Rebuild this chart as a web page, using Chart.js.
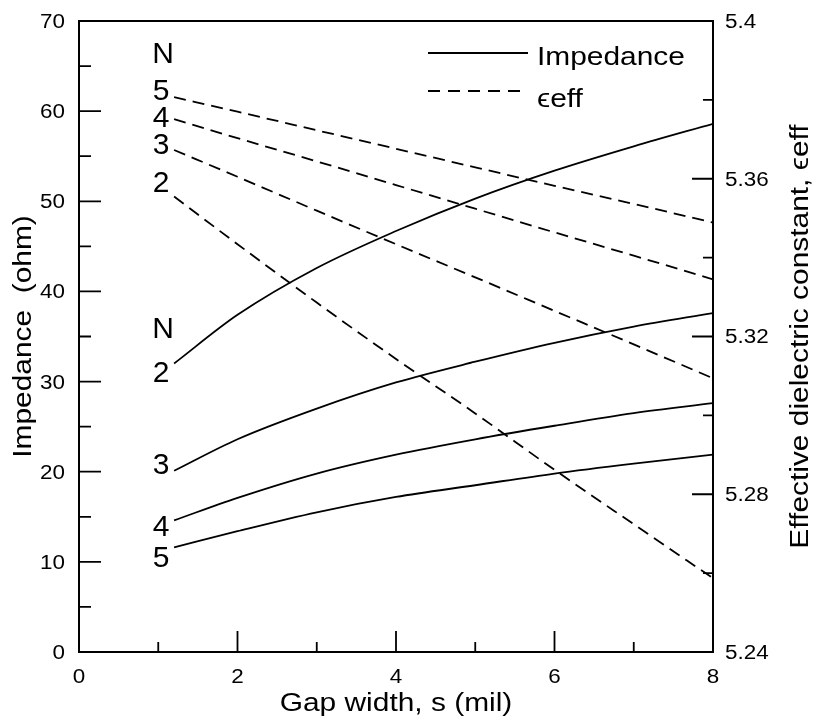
<!DOCTYPE html>
<html>
<head>
<meta charset="utf-8">
<script src="https://cdn.jsdelivr.net/npm/chart.js@4"></script>
<style>
  html, body { margin: 0; padding: 0; background: #fff; }
  #wrap { width: 815px; height: 724px; }
</style>
</head>
<body>
<div id="wrap"><canvas id="chart" width="815" height="724"></canvas></div>
<script>
// Gap width s (mil) at which each curve was evaluated
const gapWidth = [1.2, 2, 3, 4, 5, 6, 7, 8];

// Characteristic impedance (ohm) for N = 2..5 fingers
const impedanceN2 = [32.0, 37.4, 42.6, 46.7, 50.3, 53.4, 56.1, 58.6];
const impedanceN3 = [20.1, 23.6, 27.0, 29.9, 32.2, 34.3, 36.1, 37.6];
const impedanceN4 = [14.6, 17.1, 19.8, 21.9, 23.6, 25.1, 26.5, 27.6];
const impedanceN5 = [11.6, 13.4, 15.5, 17.2, 18.5, 19.8, 20.9, 21.9];

// Effective dielectric constant for N = 2..5 fingers
const effN2 = [5.3555, 5.3434, 5.3286, 5.3143, 5.3005, 5.2862, 5.2724, 5.2587];
const effN3 = [5.3673, 5.3605, 5.3519, 5.3434, 5.3350, 5.3265, 5.3180, 5.3094];
const effN4 = [5.3751, 5.3703, 5.3644, 5.3584, 5.3524, 5.3464, 5.3405, 5.3345];
const effN5 = [5.3807, 5.3770, 5.3723, 5.3676, 5.3629, 5.3582, 5.3536, 5.3489];

// Axis ticks and their labels
const xTicks = [0, 2, 4, 6, 8];
const xMinorTicks = [1, 3, 5, 7];
const leftTicks = [0, 10, 20, 30, 40, 50, 60, 70];
const leftMinorTicks = [5, 15, 25, 35, 45, 55, 65];
const rightTicks = [5.24, 5.28, 5.32, 5.36, 5.4];
const rightTickLabels = ['5.24', '5.28', '5.32', '5.36', '5.4'];
const rightMinorTicks = [5.26, 5.30, 5.34, 5.38];

const FONT = "'Liberation Sans', Arial, Helvetica, sans-serif";
const TEXT_SX = 1.15;   // the figure's lettering runs a little wide
Chart.defaults.font.family = FONT;
Chart.defaults.color = '#000';

const toPoints = ys => gapWidth.map((s, i) => ({ x: s, y: ys[i] }));

const impedanceSeries = [
  { n: '2', values: impedanceN2, labelDy: 8 },
  { n: '3', values: impedanceN3, labelDy: -8 },
  { n: '4', values: impedanceN4, labelDy: 5 },
  { n: '5', values: impedanceN5, labelDy: 9 }
];
const effSeries = [
  { n: '5', values: effN5, labelDy: -8 },
  { n: '4', values: effN4, labelDy: -3 },
  { n: '3', values: effN3, labelDy: -6.5 },
  { n: '2', values: effN2, labelDy: -15 }
];

const datasets = [];
impedanceSeries.forEach(s => datasets.push({
  label: 'Impedance N=' + s.n,
  data: toPoints(s.values),
  yAxisID: 'y',
  borderColor: '#000',
  borderWidth: 1.8,
  pointRadius: 0,
  fill: false,
  cubicInterpolationMode: 'monotone'
}));
effSeries.forEach(s => datasets.push({
  label: 'eff N=' + s.n,
  data: toPoints(s.values),
  yAxisID: 'y1',
  borderColor: '#000',
  borderWidth: 1.8,
  borderDash: [12, 7],
  pointRadius: 0,
  fill: false,
  cubicInterpolationMode: 'monotone'
}));

function wideText(ctx, text, x, y, size, align, rotate) {
  ctx.save();
  ctx.translate(x, y);
  if (rotate) ctx.rotate(rotate);
  ctx.scale(TEXT_SX, 1);
  ctx.font = size + 'px ' + FONT;
  ctx.textAlign = align;
  ctx.textBaseline = 'alphabetic';
  ctx.fillText(text, 0, 0);
  ctx.restore();
}

// Frame, inward tick marks, axis lettering, curve labels and legend
const decorations = {
  id: 'decorations',
  afterDatasetsDraw(chart) {
    const { ctx, chartArea: ca, scales } = chart;
    const x = scales.x, y = scales.y, y1 = scales.y1;
    ctx.save();
    ctx.strokeStyle = '#000';
    ctx.fillStyle = '#000';
    ctx.setLineDash([]);

    // frame
    ctx.lineWidth = 2;
    ctx.strokeRect(ca.left, ca.top, ca.right - ca.left, ca.bottom - ca.top);

    // tick marks pointing into the plot
    ctx.lineWidth = 1.8;
    ctx.beginPath();
    xTicks.slice(1, -1).forEach(v => {
      const px = x.getPixelForValue(v);
      ctx.moveTo(px, ca.bottom); ctx.lineTo(px, ca.bottom - 21);
    });
    xMinorTicks.forEach(v => {
      const px = x.getPixelForValue(v);
      ctx.moveTo(px, ca.bottom); ctx.lineTo(px, ca.bottom - 10);
    });
    leftTicks.slice(1, -1).forEach(v => {
      const py = y.getPixelForValue(v);
      ctx.moveTo(ca.left, py); ctx.lineTo(ca.left + 22, py);
    });
    leftMinorTicks.forEach(v => {
      const py = y.getPixelForValue(v);
      ctx.moveTo(ca.left, py); ctx.lineTo(ca.left + 12, py);
    });
    rightTicks.slice(1, -1).forEach(v => {
      const py = y1.getPixelForValue(v);
      ctx.moveTo(ca.right, py); ctx.lineTo(ca.right - 21, py);
    });
    rightMinorTicks.forEach(v => {
      const py = y1.getPixelForValue(v);
      ctx.moveTo(ca.right, py); ctx.lineTo(ca.right - 10, py);
    });
    ctx.stroke();

    // tick labels
    const tickSize = 19.5;
    const tickHalfCap = tickSize * 0.716 / 2;
    xTicks.forEach(v => wideText(ctx, String(v), x.getPixelForValue(v), ca.bottom + 31, tickSize, 'center'));
    leftTicks.forEach(v => wideText(ctx, String(v), ca.left - 14, y.getPixelForValue(v) + tickHalfCap, tickSize, 'right'));
    rightTicks.forEach((v, i) => wideText(ctx, rightTickLabels[i], ca.right + 12, y1.getPixelForValue(v) + tickHalfCap, tickSize, 'left'));

    // axis titles
    const midY = (ca.top + ca.bottom) / 2;
    wideText(ctx, 'Gap width, s (mil)', (ca.left + ca.right) / 2, ca.bottom + 59, 26, 'center');
    wideText(ctx, 'Impedance  (ohm)', 31, midY, 26, 'center', -Math.PI / 2);
    wideText(ctx, 'Effective dielectric constant, \u03F5eff', ca.right + 95, midY, 26, 'center', -Math.PI / 2);

    // N labels beside the start of each curve
    ctx.font = '30px ' + FONT;
    ctx.textAlign = 'center';
    ctx.textBaseline = 'alphabetic';
    const capOffset = 30 * 0.358;
    const labelX = x.getPixelForValue(gapWidth[0]) - 13;
    effSeries.forEach(s => {
      const py = y1.getPixelForValue(s.values[0]) + s.labelDy;
      ctx.fillText(s.n, labelX, py + capOffset);
    });
    const topEff = y1.getPixelForValue(effN5[0]) - 8;
    ctx.fillText('N', labelX + 2, topEff - 37 + capOffset);
    impedanceSeries.forEach(s => {
      const py = y.getPixelForValue(s.values[0]) + s.labelDy;
      ctx.fillText(s.n, labelX, py + capOffset);
    });
    const topImp = y.getPixelForValue(impedanceN2[0]) + 8;
    ctx.fillText('N', labelX + 2, topImp - 44 + capOffset);

    // legend
    ctx.lineWidth = 1.8;
    ctx.beginPath();
    ctx.moveTo(ca.right - 285, ca.top + 32);
    ctx.lineTo(ca.right - 185, ca.top + 32);
    ctx.stroke();
    ctx.setLineDash([12, 8]);
    ctx.beginPath();
    ctx.moveTo(ca.right - 285, ca.top + 70);
    ctx.lineTo(ca.right - 190, ca.top + 70);
    ctx.stroke();
    ctx.setLineDash([]);
    wideText(ctx, 'Impedance', ca.right - 176, ca.top + 44, 26, 'left');
    wideText(ctx, '\u03F5eff', ca.right - 176, ca.top + 86, 26, 'left');

    ctx.restore();
  }
};

const hiddenTicks = { display: false };
new Chart(document.getElementById('chart'), {
  type: 'line',
  data: { datasets },
  options: {
    responsive: false,
    animation: false,
    devicePixelRatio: 1,
    layout: { padding: { top: 21, left: 0, right: 0, bottom: 0 } },
    plugins: { legend: { display: false }, tooltip: { enabled: false } },
    scales: {
      x: {
        type: 'linear',
        position: 'bottom',
        min: 0, max: 8,
        afterBuildTicks: s => { s.ticks = xTicks.map(v => ({ value: v })); },
        afterFit: s => { s.height = 72; },
        grid: { display: false, drawTicks: false },
        border: { display: false },
        ticks: hiddenTicks
      },
      y: {
        type: 'linear',
        position: 'left',
        min: 0, max: 70,
        afterBuildTicks: s => { s.ticks = leftTicks.map(v => ({ value: v })); },
        afterFit: s => { s.width = 79; },
        grid: { display: false, drawTicks: false },
        border: { display: false },
        ticks: hiddenTicks
      },
      y1: {
        type: 'linear',
        position: 'right',
        min: 5.24, max: 5.4,
        afterBuildTicks: s => { s.ticks = rightTicks.map(v => ({ value: v })); },
        afterFit: s => { s.width = 102; },
        grid: { display: false, drawTicks: false },
        border: { display: false },
        ticks: hiddenTicks
      }
    }
  },
  plugins: [decorations]
});
</script>
</body>
</html>
